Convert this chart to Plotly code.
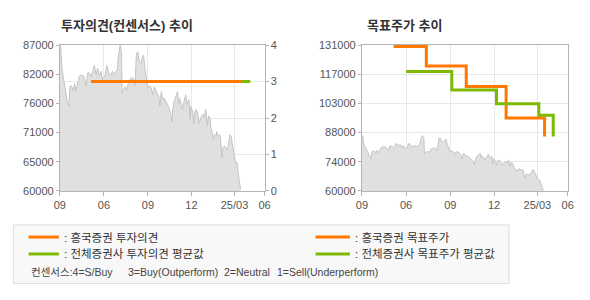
import plotly.graph_objects as go

# ---------------- data ----------------
price_dates = [
    "2024-03-01", "2024-03-03", "2024-03-05", "2024-03-08", "2024-03-10", "2024-03-12", "2024-03-16",
    "2024-03-20", "2024-03-22", "2024-03-25", "2024-03-29", "2024-04-01", "2024-04-03", "2024-04-07",
    "2024-04-11", "2024-04-18", "2024-04-21", "2024-04-25", "2024-04-28", "2024-05-02", "2024-05-05",
    "2024-05-09", "2024-05-12", "2024-05-16", "2024-05-19", "2024-05-23", "2024-05-26", "2024-05-29",
    "2024-06-03", "2024-06-07", "2024-06-11", "2024-06-15", "2024-06-19", "2024-06-22", "2024-06-25",
    "2024-06-29", "2024-07-02", "2024-07-05", "2024-07-08", "2024-07-09", "2024-07-13", "2024-07-16",
    "2024-07-19", "2024-07-23", "2024-07-26", "2024-07-30", "2024-08-02", "2024-08-05", "2024-08-08",
    "2024-08-11", "2024-08-14", "2024-08-18", "2024-08-21", "2024-08-23", "2024-08-26", "2024-08-29",
    "2024-08-31", "2024-09-01", "2024-09-05", "2024-09-08", "2024-09-11", "2024-09-14", "2024-09-16",
    "2024-09-20", "2024-09-24", "2024-09-26", "2024-09-29", "2024-10-02", "2024-10-05", "2024-10-09",
    "2024-10-12", "2024-10-16", "2024-10-19", "2024-10-21", "2024-10-23", "2024-10-26", "2024-10-29",
    "2024-11-02", "2024-11-04", "2024-11-06", "2024-11-10", "2024-11-12", "2024-11-15", "2024-11-19",
    "2024-11-22", "2024-11-26", "2024-11-28", "2024-11-30", "2024-12-04", "2024-12-06", "2024-12-08",
    "2024-12-10", "2024-12-14", "2024-12-17", "2024-12-21", "2024-12-25", "2024-12-28", "2024-12-31",
    "2025-01-03", "2025-01-06", "2025-01-09", "2025-01-11", "2025-01-14", "2025-01-16", "2025-01-18",
    "2025-01-21", "2025-01-23", "2025-01-26", "2025-01-30", "2025-02-01", "2025-02-03", "2025-02-05",
    "2025-02-09", "2025-02-12", "2025-02-16", "2025-02-19", "2025-02-22", "2025-02-24", "2025-02-27",
    "2025-03-01", "2025-03-03", "2025-03-06", "2025-03-08", "2025-03-11", "2025-03-14",
]
price_values = [
    86900, 86650, 82800, 81300, 80700, 79000, 76900,
    75700, 79300, 79500, 78650, 79850, 78400, 80150,
    81300, 81450, 81000, 79500, 81850, 81850, 81100,
    82150, 83250, 81500, 82700, 81200, 82150, 80600,
    81200, 83250, 81850, 81500, 82150, 81500, 81850,
    82500, 85500, 86950, 85500, 78070, 79000, 79250,
    78650, 80400, 80700, 81000, 80700, 79500, 85500,
    85750, 84000, 83700, 84870, 85170, 82500, 80700,
    79250, 79000, 79500, 79000, 77800, 79250, 79000,
    78050, 77500, 75700, 78400, 76900, 77200, 76600,
    76000, 75100, 74200, 72750, 75100, 76600, 77500,
    78400, 76000, 77200, 76000, 75100, 76300, 77800,
    76000, 76900, 73300, 75700, 74500, 72450, 74500,
    75100, 74500, 72450, 73630, 74200, 73630, 75100,
    72150, 73900, 73300, 71550, 70650, 69500, 70400,
    70100, 71000, 70100, 70400, 67400, 66200, 68000,
    68300, 67700, 68300, 70400, 70100, 68900, 67400,
    67100, 65300, 65300, 63550, 61800, 60300,
]

# investment opinion (consensus scale 0-4)
opinion_hk_dates = ["2024-05-05", "2025-03-15"]
opinion_hk = [3, 3]
opinion_avg_dates = ["2024-06-01", "2025-04-03"]
opinion_avg = [3, 3]

# target prices (step lines)
target_hk_dates = ["2024-05-06", "2024-07-13", "2024-10-04", "2024-12-26", "2025-03-16"]
target_hk = [130300, 120800, 110900, 95500, 86500]
target_avg_dates = ["2024-06-01", "2024-09-04", "2024-12-06", "2025-03-04", "2025-04-03"]
target_avg = [118200, 109100, 102500, 96900, 86500]

# axis ticks
x_tickvals = ["2024-03-01", "2024-06-01", "2024-09-01", "2024-12-01", "2025-03-01", "2025-05-03"]
x_ticktext = ["09", "06", "09", "12", "25/03", "06"]
x_range = ["2024-03-01", "2025-05-03"]

left_tickvals = [60000, 65400, 70800, 76200, 81600, 87000]
left_ticktext = ["60000", "65000", "71000", "76000", "82000", "87000"]
opinion_tickvals = [0, 1, 2, 3, 4]
right_tickvals = [60000, 74200, 88400, 102600, 116800, 131000]
right_ticktext = ["60000", "74000", "88000", "103000", "117000", "131000"]

# ---------------- styling ----------------
W, H = 590, 300
ORANGE = "#FF7800"
GREEN = "#7DB900"
AREA_FILL = "#E0E0E0"
AREA_LINE = "#C4C4C4"
GRID = "#E8E8E8"
AXLINE = "#B4B4B4"
TICKFONT = dict(family="Liberation Sans, Arial, Noto Sans CJK KR", size=11, color="#555555")
KFONT = "Liberation Sans, Noto Sans CJK KR, sans-serif"


def px_x(x):
    return x / W


def px_y(y):
    return 1 - y / H


ydom = [px_y(192.7), px_y(40.7)]

fig = go.Figure()

# Left chart: price area
fig.add_trace(go.Scatter(x=price_dates, y=price_values, mode="lines",
                         line=dict(color=AREA_LINE, width=1), fill="tozeroy",
                         fillcolor=AREA_FILL, xaxis="x", yaxis="y", hoverinfo="skip"))
# Left chart: opinions
fig.add_trace(go.Scatter(x=opinion_avg_dates, y=opinion_avg, mode="lines",
                         line=dict(color=GREEN, width=3), xaxis="x", yaxis="y2"))
fig.add_trace(go.Scatter(x=opinion_hk_dates, y=opinion_hk, mode="lines",
                         line=dict(color=ORANGE, width=3), xaxis="x", yaxis="y2"))

# Right chart: price area
fig.add_trace(go.Scatter(x=price_dates, y=price_values, mode="lines",
                         line=dict(color=AREA_LINE, width=1), fill="tozeroy",
                         fillcolor=AREA_FILL, xaxis="x2", yaxis="y3", hoverinfo="skip"))
# Right chart: target prices
fig.add_trace(go.Scatter(x=target_hk_dates, y=target_hk, mode="lines", line_shape="hv",
                         line=dict(color=ORANGE, width=3), xaxis="x2", yaxis="y3"))
fig.add_trace(go.Scatter(x=target_avg_dates, y=target_avg, mode="lines", line_shape="hv",
                         line=dict(color=GREEN, width=3), xaxis="x2", yaxis="y3"))

common_x = dict(type="date", range=x_range, tickmode="array", tickvals=x_tickvals,
                ticktext=x_ticktext, showgrid=True, gridcolor=GRID, gridwidth=1,
                showline=True, linecolor=AXLINE, linewidth=1, mirror=True,
                ticks="outside", ticklen=4, tickcolor=AXLINE, tickfont=TICKFONT,
                zeroline=False)

fig.update_layout(
    width=W, height=H,
    margin=dict(l=0, r=0, t=0, b=0),
    paper_bgcolor="white", plot_bgcolor="white",
    showlegend=False,
    xaxis=dict(domain=[px_x(55), px_x(264)], anchor="y", **common_x),
    yaxis=dict(domain=ydom, range=[60000, 87000], tickmode="array",
               tickvals=left_tickvals, ticktext=left_ticktext, showgrid=False,
               showline=True, linecolor=AXLINE, mirror=True, ticks="outside",
               ticklen=3, tickcolor=AXLINE, tickfont=TICKFONT, zeroline=False,
               anchor="x"),
    yaxis2=dict(domain=ydom, range=[0, 4], overlaying="y", side="right",
                tickmode="array", tickvals=opinion_tickvals, showgrid=True,
                gridcolor=GRID, ticks="outside", ticklen=3, tickcolor=AXLINE,
                tickfont=TICKFONT, zeroline=False, anchor="x", showline=False),
    xaxis2=dict(domain=[px_x(363.3), px_x(573.3)], anchor="y3", **common_x),
    yaxis3=dict(domain=ydom, range=[60000, 131000], tickmode="array",
                tickvals=right_tickvals, ticktext=right_ticktext, showgrid=True,
                gridcolor=GRID, showline=True, linecolor=AXLINE, mirror=True,
                ticks="outside", ticklen=3, tickcolor=AXLINE, tickfont=TICKFONT,
                zeroline=False, anchor="x2"),
)

annotations = []
shapes = []

# Titles
annotations.append(dict(text="<b>투자의견(컨센서스) 추이</b>", x=px_x(54), y=px_y(20),
                        xref="paper", yref="paper", xanchor="left", yanchor="middle",
                        showarrow=False, font=dict(family=KFONT, size=13, color="#333333")))
annotations.append(dict(text="<b>목표주가 추이</b>", x=px_x(366), y=px_y(20),
                        xref="paper", yref="paper", xanchor="left", yanchor="middle",
                        showarrow=False, font=dict(family=KFONT, size=13, color="#333333")))

# Legend box
shapes.append(dict(type="rect", xref="paper", yref="paper",
                   x0=px_x(7.5), x1=px_x(513.5), y0=px_y(289), y1=px_y(228),
                   line=dict(color="#DDDDDD", width=1), fillcolor="#F8F8F8", layer="below"))

legend_items = [
    (23, 54, 240.7, ORANGE, ": 흥국증권 투자의견"),
    (23, 54, 258.3, GREEN, ": 전체증권사 투자의견 평균값"),
    (316, 351, 240.7, ORANGE, ": 흥국증권 목표주가"),
    (316, 351, 258.3, GREEN, ": 전체증권사 목표주가 평균값"),
]
for x0, x1, yy, col, label in legend_items:
    shapes.append(dict(type="line", xref="paper", yref="paper",
                       x0=px_x(x0), x1=px_x(x1), y0=px_y(yy), y1=px_y(yy),
                       line=dict(color=col, width=3)))
    annotations.append(dict(text=label, x=px_x(x1 + 3), y=px_y(yy), xref="paper", yref="paper",
                            xanchor="left", yanchor="middle", showarrow=False,
                            font=dict(family=KFONT, size=11.5, color="#333333")))

consensus_parts = [
    (23, "컨센서스:4=S/Buy"),
    (122, "3=Buy(Outperform)"),
    (220, "2=Neutral"),
    (275, "1=Sell(Underperform)"),
]
for xx, txt in consensus_parts:
    annotations.append(dict(text=txt, x=px_x(xx), y=px_y(277), xref="paper", yref="paper",
                            xanchor="left", yanchor="middle", showarrow=False,
                            font=dict(family=KFONT, size=10.5, color="#444444")))

fig.update_layout(annotations=annotations, shapes=shapes)

fig.write_html("out.html")
